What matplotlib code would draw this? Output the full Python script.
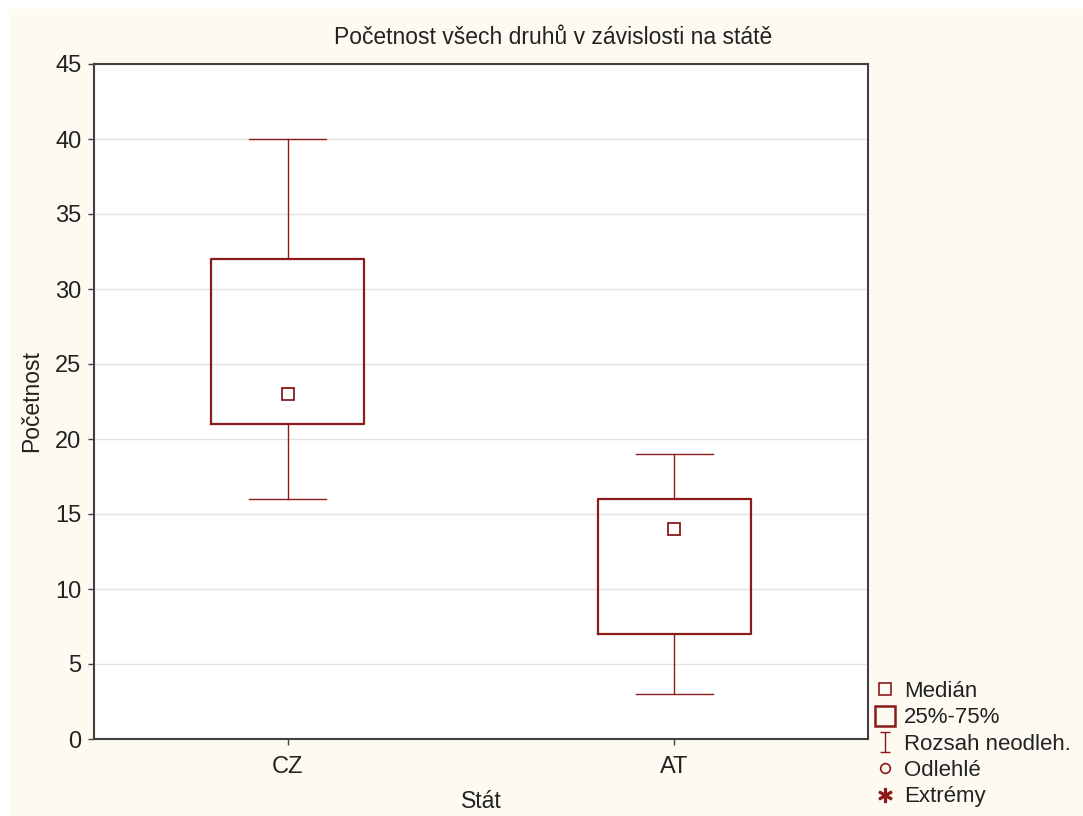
import numpy as np
import matplotlib.pyplot as plt
from matplotlib.lines import Line2D
from matplotlib.path import Path

plt.rcParams['font.family'] = ['Liberation Sans', 'DejaVu Sans']

# data
states = ['CZ', 'AT']
whislo = [16, 3]
q1 = [21, 7]
med = [23, 14]
q3 = [32, 16]
whishi = [40, 19]

red = '#8b1a1a'
txt = '#222222'
bg = '#fdfaf2'

fig = plt.figure(figsize=(10.83, 8.16), dpi=100, facecolor='white')
# cream panel with a thin white margin at top/left
fig.patches.append(plt.Rectangle((9 / 1083, 0), 1, 1 - 9 / 816, transform=fig.transFigure,
                                 facecolor=bg, edgecolor='none', zorder=-10))
ax = fig.add_axes([94 / 1083, 1 - 739 / 816, (868 - 94) / 1083, (739 - 64) / 816])
ax.set_facecolor('white')

stats = []
for i in range(len(states)):
    stats.append(dict(whislo=whislo[i], q1=q1[i], med=med[i], q3=q3[i], whishi=whishi[i],
                      fliers=[], label=states[i]))

ax.bxp(stats, positions=[1, 2], widths=0.395, showmeans=False, manage_ticks=False,
       boxprops=dict(color=red, linewidth=1.6),
       whiskerprops=dict(color=red, linewidth=1.0),
       capprops=dict(color=red, linewidth=1.0),
       medianprops=dict(linewidth=0),
       capwidths=0.2)
# median drawn as small square marker
ax.plot([1, 2], med, linestyle='none', marker='s', markersize=8.5, markerfacecolor='none',
        markeredgecolor=red, markeredgewidth=1.3, zorder=5)

ax.set_xlim(0.5, 2.5)
ax.set_ylim(0, 45)
ax.set_yticks(np.arange(0, 46, 5))
ax.set_xticks([1, 2])
ax.set_xticklabels(states)
ax.yaxis.grid(True, color='#e2e2e2', linewidth=1.0)
ax.set_axisbelow(True)
for s in ax.spines.values():
    s.set_color('#404040')
    s.set_linewidth(1.5)
ax.tick_params(colors=txt, labelsize=17, length=4, width=1, color='#404040')
ax.tick_params(axis='y', pad=5)
ax.tick_params(axis='x', pad=8)

fig.text(553 / 1083, 1 - 38 / 816, 'Početnost všech druhů v závislosti na státě',
         fontsize=16.5, color=txt, ha='center', va='center')
ax.set_xlabel('Stát', fontsize=16.5, color=txt, labelpad=9)
ax.set_ylabel('Početnost', fontsize=16.5, color=txt, labelpad=9)

# legend
ibeam = Path([(-0.5, 1), (0.5, 1), (0, 1), (0, -1), (-0.5, -1), (0.5, -1)],
             [Path.MOVETO, Path.LINETO, Path.MOVETO, Path.LINETO, Path.MOVETO, Path.LINETO])
handles = [
    Line2D([], [], linestyle='none', marker='s', markersize=8, markerfacecolor='none',
           markeredgecolor=red, markeredgewidth=1.2),
    Line2D([], [], linestyle='none', marker='s', markersize=14, markerfacecolor='none',
           markeredgecolor=red, markeredgewidth=1.8),
    Line2D([], [], linestyle='none', marker=ibeam, markersize=14, markerfacecolor='none',
           markeredgecolor=red, markeredgewidth=1.0),
    Line2D([], [], linestyle='none', marker='o', markersize=7, markerfacecolor='none',
           markeredgecolor=red, markeredgewidth=1.2),
    Line2D([], [], linestyle='none', marker='$\\ast$', markersize=10, color=red),
]
labels = ['Medián', '25%-75%', 'Rozsah neodleh.', 'Odlehlé', 'Extrémy']
leg = fig.legend(handles, labels, loc='upper left', bbox_to_anchor=(875 / 1083, 1 - 681 / 816),
                 frameon=False, fontsize=16, handlelength=0.9, handletextpad=0.4,
                 labelspacing=0.24, borderpad=0, borderaxespad=0, labelcolor=txt)

fig.savefig('out.png', dpi=100, facecolor=fig.get_facecolor())
